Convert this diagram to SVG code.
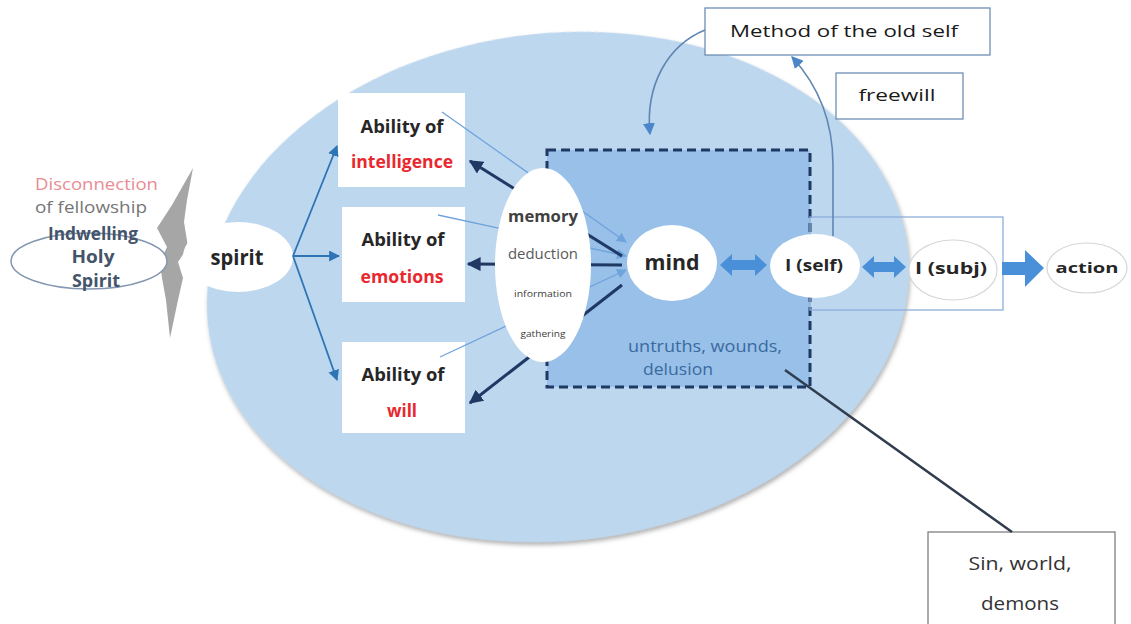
<svg xmlns="http://www.w3.org/2000/svg" width="1131" height="624" viewBox="0 0 1131 624">
  <defs>
    <style>
      text { font-family: "Open Sans", "Noto Sans", "Liberation Sans", sans-serif; }
      .b { font-weight: 700; }
      .box { fill: #ffffff; }
      .lbl { fill: #262626; font-size: 17px; text-anchor: middle; }
      .red { fill: #e8282e; font-size: 18px; text-anchor: middle; }
      .oval { fill: #ffffff; }
      .note { fill: #ffffff; stroke: #6d8fb4; stroke-width: 1.3; }
      .dark { stroke: #1f3864; stroke-width: 3; fill: none; marker-end: url(#ahDark); }
      .thin { stroke: #6fa3dc; stroke-width: 1.3; fill: none; marker-end: url(#ahLight); }
      .spk { stroke: #2e75b6; stroke-width: 1.8; fill: none; marker-end: url(#ahBlue); }
      .curve { stroke: #5f86b3; stroke-width: 1.6; fill: none; marker-end: url(#ahCurve); }
      .fat { fill: #4a90d9; }
    </style>
    <marker id="ahDark" viewBox="0 0 10 10" refX="9" refY="5" markerUnits="userSpaceOnUse" markerWidth="14" markerHeight="14" orient="auto">
      <path d="M0,0 L10,5 L0,10 z" fill="#1f3864"/>
    </marker>
    <marker id="ahLight" viewBox="0 0 10 10" refX="9" refY="5" markerUnits="userSpaceOnUse" markerWidth="10" markerHeight="10" orient="auto">
      <path d="M0,0 L10,5 L0,10 z" fill="#6fa3dc"/>
    </marker>
    <marker id="ahBlue" viewBox="0 0 10 10" refX="9" refY="5" markerUnits="userSpaceOnUse" markerWidth="11" markerHeight="11" orient="auto">
      <path d="M0,0 L10,5 L0,10 z" fill="#2e75b6"/>
    </marker>
    <marker id="ahCurve" viewBox="0 0 10 10" refX="9" refY="5" markerUnits="userSpaceOnUse" markerWidth="12" markerHeight="12" orient="auto">
      <path d="M0,0 L10,5 L0,10 z" fill="#4a86c8"/>
    </marker>
    <filter id="soft" x="-5%" y="-5%" width="110%" height="112%">
      <feDropShadow dx="1" dy="3" stdDeviation="2" flood-color="#7f7f7f" flood-opacity="0.6"/>
    </filter>
  </defs>

  <rect width="1131" height="624" fill="#ffffff"/>

  <!-- soul: the large background oval -->
  <g id="soul">
    <ellipse cx="558" cy="287" rx="352" ry="254" transform="rotate(-6 558 287)" fill="#bdd7ee" filter="url(#soft)"/>
  </g>

  <!-- mind region with its dashed border -->
  <g id="mind-region">
    <rect x="547" y="150" width="263" height="237" fill="#98c0e8" stroke="#1f3864" stroke-width="3" stroke-dasharray="9,5"/>
    <text x="705" y="352" font-size="16" fill="#3a6aa0" text-anchor="middle" textLength="154" lengthAdjust="spacingAndGlyphs">untruths, wounds,</text>
    <text x="643" y="375" font-size="16" fill="#3a6aa0" textLength="70" lengthAdjust="spacingAndGlyphs">delusion</text>
  </g>

  <!-- frame around the subject -->
  <g id="subject-frame">
    <rect x="810" y="217" width="193" height="93" fill="none" stroke="#8eaedb" stroke-width="1.3"/>
  </g>

  <!-- lightning bolt: broken fellowship -->
  <g id="bolt">
    <polygon points="193,168 187,200 184,222 188,247 178,262 183,278 178,300 170,338 166,300 162,278 160,262 167,247 157,228 172,205" fill="#a6a6a6"/>
  </g>

  <g id="holy-spirit">
    <ellipse cx="89" cy="261" rx="78" ry="28" fill="#ffffff" stroke="#8497b0" stroke-width="1.5"/>
    <text x="93" y="240" class="b" font-size="17" fill="#44546a" text-anchor="middle" textLength="90" lengthAdjust="spacingAndGlyphs">Indwelling</text>
    <text x="93" y="263" class="b" font-size="17" fill="#44546a" text-anchor="middle" textLength="43" lengthAdjust="spacingAndGlyphs">Holy</text>
    <text x="96" y="287" class="b" font-size="17" fill="#44546a" text-anchor="middle" textLength="48" lengthAdjust="spacingAndGlyphs">Spirit</text>
  </g>

  <g id="disconnection">
    <text x="35" y="190" font-size="17" fill="#e98c94" textLength="123" lengthAdjust="spacingAndGlyphs">Disconnection</text>
    <text x="35" y="213" font-size="17" fill="#767676" textLength="112" lengthAdjust="spacingAndGlyphs">of fellowship</text>
  </g>

  <g id="spirit">
    <ellipse cx="238" cy="257" rx="55" ry="35" class="oval"/>
    <text x="237" y="265" class="b" font-size="21" fill="#262626" text-anchor="middle" textLength="53" lengthAdjust="spacingAndGlyphs">spirit</text>
  </g>

  <g id="intelligence">
    <rect x="338" y="93" width="127" height="94" class="box"/>
    <text x="402" y="133" class="b lbl" textLength="83" lengthAdjust="spacingAndGlyphs">Ability of</text>
    <text x="402" y="168" class="b red" textLength="102" lengthAdjust="spacingAndGlyphs">intelligence</text>
  </g>

  <g id="emotions">
    <rect x="342" y="207" width="123" height="95" class="box"/>
    <text x="403" y="246" class="b lbl" textLength="83" lengthAdjust="spacingAndGlyphs">Ability of</text>
    <text x="402" y="283" class="b red" textLength="83" lengthAdjust="spacingAndGlyphs">emotions</text>
  </g>

  <g id="will">
    <rect x="342" y="342" width="123" height="91" class="box"/>
    <text x="403" y="381" class="b lbl" textLength="83" lengthAdjust="spacingAndGlyphs">Ability of</text>
    <text x="402" y="417" class="b red" textLength="30" lengthAdjust="spacingAndGlyphs">will</text>
  </g>

  <g id="method">
    <rect x="705" y="8" width="285" height="47" class="note"/>
    <text x="844" y="37" font-size="17" fill="#1a1a1a" text-anchor="middle" textLength="228" lengthAdjust="spacingAndGlyphs">Method of the old self</text>
  </g>

  <g id="freewill">
    <rect x="836" y="73" width="127" height="46" class="note"/>
    <text x="897" y="101" font-size="17" fill="#1a1a1a" text-anchor="middle" textLength="77" lengthAdjust="spacingAndGlyphs">freewill</text>
  </g>

  <g id="sin-world-demons">
    <rect x="928" y="532" width="187" height="100" fill="#ffffff" stroke="#808080" stroke-width="1.3"/>
    <text x="1020" y="570" font-size="18" fill="#333333" text-anchor="middle" textLength="103" lengthAdjust="spacingAndGlyphs">Sin, world,</text>
    <text x="1020" y="610" font-size="18" fill="#333333" text-anchor="middle" textLength="78" lengthAdjust="spacingAndGlyphs">demons</text>
  </g>

  <g id="connectors">
    <!-- spirit to the three abilities -->
    <path class="spk" d="M293,256 L337,146"/>
    <path class="spk" d="M293,256 L339,256"/>
    <path class="spk" d="M293,256 L337,380"/>
    <!-- abilities feeding the mind -->
    <path class="thin" d="M442,112 L626,242"/>
    <path class="thin" d="M438,215 L626,256"/>
    <path class="thin" d="M440,357 L626,270"/>
    <!-- mind acting back on the abilities -->
    <path class="dark" d="M622,256 L470,161"/>
    <path class="dark" d="M622,265 L468,264"/>
    <path class="dark" d="M622,285 L470,403"/>
    <!-- old-self loop -->
    <path class="curve" d="M705,30 C668,45 645,85 650,134"/>
    <path class="curve" d="M833,236 L833,165 C833,115 815,82 792,57"/>
    <!-- outside influence -->
    <path d="M785,370 L1012,532" stroke="#2f3d4f" stroke-width="2.5" fill="none"/>
    <!-- block arrows along the chain -->
    <polygon class="fat" points="720,265 732,254 732,260 755,260 755,254 767,265 755,276 755,270 732,270 732,276"/>
    <polygon class="fat" points="862,267 874,256 874,262 894,262 894,256 906,267 894,278 894,272 874,272 874,278"/>
    <polygon class="fat" points="1002,262 1025,262 1025,250 1044,268 1025,287 1025,275 1002,275"/>
  </g>

  <g id="memory">
    <ellipse cx="543" cy="265" rx="48" ry="97" class="oval"/>
    <text x="543" y="222" class="b" font-size="16" fill="#404040" text-anchor="middle" textLength="70" lengthAdjust="spacingAndGlyphs">memory</text>
    <text x="543" y="259" font-size="14" fill="#595959" text-anchor="middle" textLength="70" lengthAdjust="spacingAndGlyphs">deduction</text>
    <text x="543" y="297" font-size="9" fill="#404040" text-anchor="middle" textLength="58" lengthAdjust="spacingAndGlyphs">information</text>
    <text x="543" y="337" font-size="9" fill="#404040" text-anchor="middle" textLength="45" lengthAdjust="spacingAndGlyphs">gathering</text>
  </g>

  <g id="mind">
    <ellipse cx="672" cy="263" rx="45" ry="38" class="oval"/>
    <text x="672" y="270" class="b" font-size="21" fill="#262626" text-anchor="middle" textLength="55" lengthAdjust="spacingAndGlyphs">mind</text>
  </g>

  <g id="self">
    <ellipse cx="815" cy="266" rx="45" ry="32" class="oval"/>
    <text x="814" y="271" class="b" font-size="16" fill="#262626" text-anchor="middle" textLength="58" lengthAdjust="spacingAndGlyphs">I (self)</text>
  </g>

  <g id="subject">
    <ellipse cx="953" cy="270" rx="44" ry="30" fill="#ffffff" stroke="#d6d6d6" stroke-width="1.2"/>
    <text x="951" y="274" class="b" font-size="16" fill="#262626" text-anchor="middle" textLength="72" lengthAdjust="spacingAndGlyphs">I (subj)</text>
  </g>

  <g id="action">
    <ellipse cx="1087" cy="268" rx="40" ry="25" fill="#ffffff" stroke="#d6d6d6" stroke-width="1.2"/>
    <text x="1087" y="273" class="b" font-size="15" fill="#262626" text-anchor="middle" textLength="63" lengthAdjust="spacingAndGlyphs">action</text>
  </g>
</svg>
